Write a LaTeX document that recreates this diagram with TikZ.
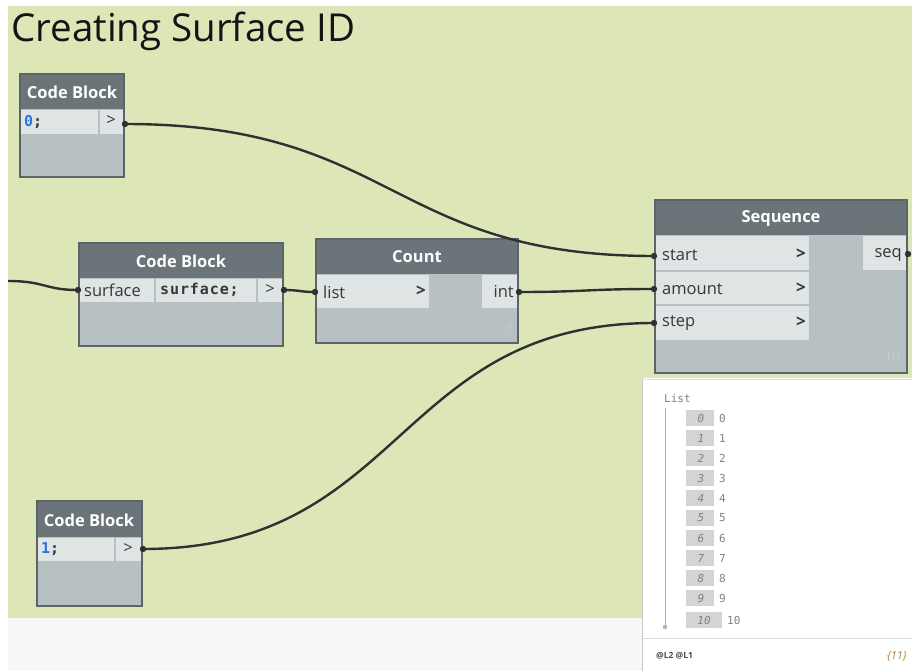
\documentclass[tikz,border=0pt]{standalone}
\usepackage{fontspec}
\setmainfont{Open Sans}
\newfontfamily\mono{DejaVu Sans Mono}
\newfontfamily\widemono[LetterSpace=6]{DejaVu Sans Mono}
\definecolor{grp}{RGB}{220,230,183}
\definecolor{hdr}{RGB}{106,116,121}
\definecolor{bdy}{RGB}{183,192,194}
\definecolor{cel}{RGB}{223,228,228}
\definecolor{edgec}{RGB}{92,100,103}
\definecolor{wirec}{RGB}{48,48,48}
\definecolor{codeblue}{RGB}{45,115,220}
\definecolor{txt}{RGB}{55,55,55}
\definecolor{lst}{RGB}{130,130,130}
\definecolor{idxbg}{RGB}{212,212,212}
\definecolor{gold}{RGB}{175,135,60}
\definecolor{foot}{RGB}{248,248,248}
\tikzset{
  nodebox/.style={draw=edgec, line width=1.2pt, fill=bdy, inner sep=0pt, anchor=north west},
  hdrbar/.style={fill=hdr},
  cellbox/.style={fill=cel},
  hdrtxt/.style={text=white, font=\fontsize{16.5}{18}\selectfont\bfseries, inner sep=0pt},
  porttxt/.style={text=txt, font=\fontsize{16.5}{18}\selectfont, inner sep=0pt},
  chev/.style={text=txt, font=\fontsize{17}{18}\selectfont\bfseries, inner sep=0pt},
  codetxt/.style={text=txt, font=\fontsize{15}{17}\selectfont\widemono\bfseries, inner sep=0pt},
  wirest/.style={draw=wirec, line width=2.4pt},
  portdot/.style={fill=wirec},
  lsttxt/.style={text=lst, font=\fontsize{11}{13}\selectfont\mono, inner sep=0pt},
  idxtxt/.style={text=lst, font=\fontsize{11}{13}\selectfont\mono\itshape, inner sep=0pt},
  marktxt/.style={text=white!65!gray, font=\fontsize{10}{11}\selectfont, inner sep=0pt},
}
\begin{document}
\begin{tikzpicture}[x=1pt,y=-1pt]
\useasboundingbox (0,0) rectangle (912,671);
\fill[white] (0,0) rectangle (912,671);
\fill[grp] (8,6) rectangle (912,618);
\fill[foot] (8,618) rectangle (642,671);

% title
\node[anchor=base west, inner sep=0pt, text=black!92, font=\fontsize{38.5}{42}\selectfont] (title) at (11,42) {Creating Surface ID};

% ---------- Code Block 1 ----------
\node[nodebox, minimum width=104pt, minimum height=103pt] (cb1) at (20,74) {};
\fill[hdrbar] (20,74) rectangle (124,109);
\fill[cellbox] (21,110) rectangle (98,134);
\fill[cellbox] (100,110) rectangle (123,134);
\draw[edgec, line width=1.2pt] (20,74) rectangle (124,177);
\node[hdrtxt] (cb1h) at (72,92) {Code Block};
\node[codetxt, anchor=west] (cb1c) at (24,122) {\textcolor{codeblue}{0};};
\node[porttxt] (cb1g) at (111,121) {>};
\coordinate (cb1out) at (125,124);

% ---------- Code Block 2 ----------
\node[nodebox, minimum width=204pt, minimum height=103pt] (cb2) at (79,243) {};
\fill[hdrbar] (79,243) rectangle (283,278);
\fill[cellbox] (80,279) rectangle (154,302);
\fill[cellbox] (156,279) rectangle (256,302);
\fill[cellbox] (258,279) rectangle (282,302);
\draw[edgec, line width=1.2pt] (79,243) rectangle (283,346);
\node[hdrtxt] (cb2h) at (181,261) {Code Block};
\node[porttxt, anchor=west] (cb2i) at (84,290) {surface};
\node[codetxt, anchor=west] (cb2c) at (160,290) {surface;};
\node[porttxt] (cb2g) at (270,289) {>};
\coordinate (cb2in) at (78,290);
\coordinate (cb2out) at (284,290);

% ---------- Count ----------
\node[nodebox, minimum width=202pt, minimum height=104pt] (cnt) at (316,239) {};
\fill[hdrbar] (316,239) rectangle (518,274);
\fill[cellbox] (317,275) rectangle (429,308);
\fill[cellbox] (482,275) rectangle (517,308);
\draw[edgec, line width=1.2pt] (316,239) rectangle (518,343);
\node[hdrtxt] (cnth) at (417,257) {Count};
\node[porttxt, anchor=west] (cntl) at (323,292) {list};
\node[chev] (cntg) at (421,291) {>};
\node[porttxt, anchor=east] (cnti) at (514,292) {int};
\node[marktxt] (cntm) at (510,328) {I};
\coordinate (cntin) at (315,292);
\coordinate (cntout) at (519,292);

% ---------- Sequence ----------
\node[nodebox, minimum width=252pt, minimum height=173pt] (seq) at (655,200) {};
\fill[hdrbar] (655,200) rectangle (907,235);
\fill[cellbox] (656,236) rectangle (809,270);
\fill[cellbox] (656,272) rectangle (809,304);
\fill[cellbox] (656,306) rectangle (809,340);
\fill[cellbox] (863,236) rectangle (906,270);
\draw[edgec, line width=1.2pt] (655,200) rectangle (907,373);
\node[hdrtxt] (seqh) at (781,219) {Sequence};
\node[porttxt, anchor=west] (seqs) at (662,255) {start};
\node[porttxt, anchor=west] (seqa) at (662,289) {amount};
\node[porttxt, anchor=west] (seqt) at (662,323) {step};
\node[chev] (seqg1) at (801,254) {>};
\node[chev] (seqg2) at (801,288) {>};
\node[chev] (seqg3) at (801,322) {>};
\node[porttxt, anchor=east] (seqo) at (902,255) {seq};
\node[marktxt] (seqm) at (894,356) {I\,I\,\textbackslash};
\coordinate (seqstart) at (654,256);
\coordinate (seqamount) at (654,289);
\coordinate (seqstep) at (654,323);
\coordinate (seqout) at (908,254);

% ---------- Code Block 3 ----------
\node[nodebox, minimum width=105pt, minimum height=105pt] (cb3) at (37,501) {};
\fill[hdrbar] (37,501) rectangle (142,537);
\fill[cellbox] (38,538) rectangle (114,561);
\fill[cellbox] (116,538) rectangle (141,561);
\draw[edgec, line width=1.2pt] (37,501) rectangle (142,606);
\node[hdrtxt] (cb3h) at (89,520) {Code Block};
\node[codetxt, anchor=west] (cb3c) at (41,549) {\textcolor{codeblue}{1};};
\node[porttxt] (cb3g) at (128,548) {>};
\coordinate (cb3out) at (143,549);

% ---------- wires ----------
\coordinate (leftin) at (8,281);
\draw[wirest] (cb1out) .. controls (395,124) and (390,256) .. (seqstart);
\draw[wirest] (leftin) .. controls (45,281) and (45,290) .. (cb2in);
\draw[wirest] (cb2out) .. controls (300,290) and (300,292) .. (cntin);
\draw[wirest] (cntout) .. controls (586,292) and (586,289) .. (seqamount);
\draw[wirest] (cb3out) .. controls (405,549) and (395,323) .. (seqstep);

% port dots
\foreach \p in {cb1out,cb2in,cb2out,cntin,cntout,seqstart,seqamount,seqstep,seqout,cb3out}
  \fill[portdot] (\p) circle (3.2pt);

% ---------- List preview ----------
\fill[white] (642,378) rectangle (912,671);
\draw[black!22, line width=0.8pt] (642,378) -- (642,671);
\draw[black!12, line width=0.8pt] (642,379) -- (912,379);
\node[lsttxt, anchor=west] (lsthead) at (664,398) {List};
\draw[black!30, line width=1pt] (665,408) -- (665,626);
\fill[black!30] (665,627) circle (2.2pt);
\foreach \i in {0,...,9} {
  \fill[idxbg] (686,{418+20*\i-8}) rectangle (714,{418+20*\i+8});
  \node[idxtxt] at (701,{418+20*\i}) {\i};
  \node[lsttxt, anchor=west] at (719,{418+20*\i}) {\i};
}
\fill[idxbg] (686,612) rectangle (722,628);
\node[idxtxt] (i10) at (704,620) {10};
\node[lsttxt, anchor=west] (v10) at (727,620) {10};
\draw[black!15, line width=1pt] (643,638) -- (912,638);
\node[inner sep=0pt, anchor=west, text=black!70, font=\fontsize{8.5}{9}\selectfont\bfseries] (lvl) at (656,656) {@L2 @L1};
\node[inner sep=0pt, anchor=east, text=gold, font=\fontsize{11}{12}\selectfont\itshape] (cnt11) at (907,656) {\{11\}};
\end{tikzpicture}
\end{document}
